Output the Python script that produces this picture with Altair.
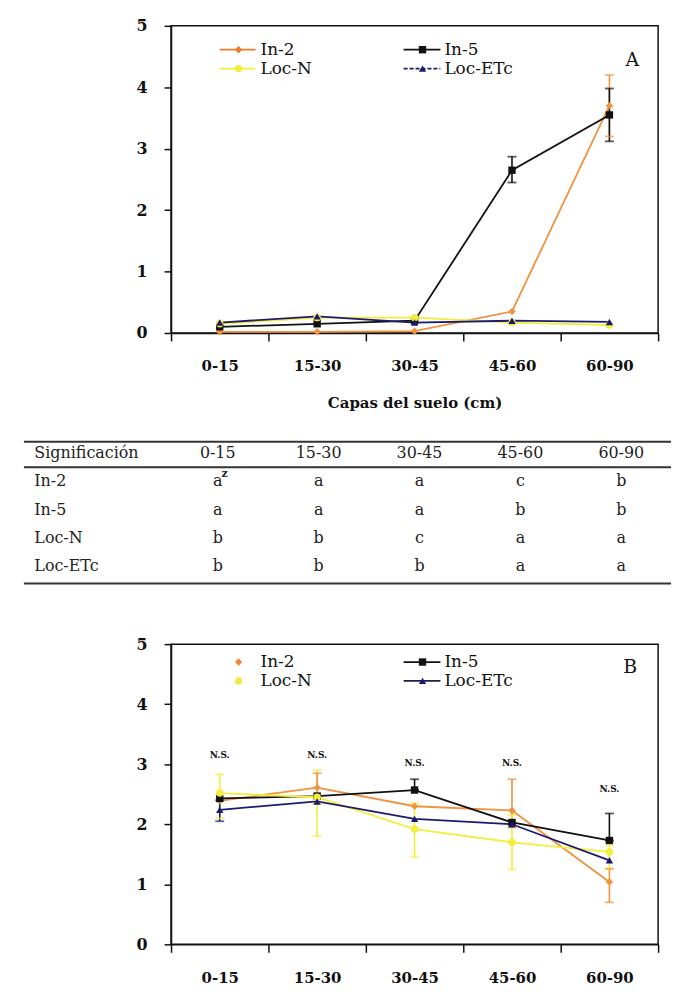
import altair as alt
import pandas as pd

SERIF = "DejaVu Serif"

capas = ["0-15", "15-30", "30-45", "45-60", "60-90"]
series = ["In-2", "In-5", "Loc-N", "Loc-ETc"]

# Panel A values
a_in2 = [0.02, 0.02, 0.03, 0.35, 3.70]
a_in5 = [0.10, 0.15, 0.20, 2.65, 3.55]
a_locn = [0.15, 0.25, 0.25, 0.17, 0.13]
a_locetc = [0.17, 0.27, 0.17, 0.20, 0.18]

a_err_serie = ["In-2", "In-5", "In-5"]
a_err_capa = ["60-90", "45-60", "60-90"]
a_err_lo = [3.20, 2.45, 3.12]
a_err_hi = [4.20, 2.87, 3.98]

# Panel B values
b_in2 = [2.39, 2.61, 2.30, 2.23, 1.04]
b_in5 = [2.43, 2.47, 2.57, 2.03, 1.73]
b_locn = [2.52, 2.45, 1.92, 1.70, 1.54]
b_locetc = [2.24, 2.38, 2.09, 2.00, 1.40]

b_err_serie = ["Loc-N", "Loc-ETc", "Loc-N", "In-2", "In-5", "Loc-N",
               "In-2", "Loc-N", "In-5", "In-2", "Loc-N"]
b_err_capa = ["0-15", "0-15", "15-30", "15-30", "30-45", "30-45",
              "45-60", "45-60", "60-90", "60-90", "60-90"]
b_err_lo = [2.10, 2.05, 1.80, 2.35, 2.57, 1.45, 1.95, 1.25, 1.73, 0.70, 1.25]
b_err_hi = [2.83, 2.40, 2.90, 2.85, 2.75, 2.35, 2.75, 2.15, 2.18, 1.26, 1.65]

ns_text = "N.S."
ns_y = [3.16, 3.16, 3.02, 3.02, 2.58]

# Significance table
sig_header = "Significación"
sig_in2 = ["a", "a", "a", "c", "b"]
sig_in5 = ["a", "a", "a", "b", "b"]
sig_locn = ["b", "b", "c", "a", "a"]
sig_locetc = ["b", "b", "b", "a", "a"]
sig_sup = "z"

shapes = ["diamond", "square", "circle", "triangle-up"]
a_line_colors = ["#F0923E", "#111111", "#F2EE3A", "#1B1B6E"]
a_point_colors = ["#F07A2A", "#111111", "#F2EE3A", "#1B1B6E"]
b_line_colors = ["#F6C08E", "#111111", "#F4EE9A", "#1E1E50"]
b_point_colors = ["#F0863A", "#111111", "#EFEA4A", "#1B1B6E"]


def panel(vals, err_s, err_c, err_lo, err_hi, line_colors, point_colors,
          height, x_title, tag, leg_rows, leg_lines, leg_dash, tag_pos, ns=None):
    df = pd.DataFrame({
        "capa": capas * len(series),
        "serie": [s for s in series for _ in capas],
        "valor": [v for vs in vals for v in vs],
    })
    err = pd.DataFrame({"capa": err_c, "serie": err_s, "lo": err_lo, "hi": err_hi})

    axis_kw = dict(tickBand="extent", labelAngle=0, labelFont=SERIF,
                   labelFontWeight="bold", labelFontSize=15, labelColor="#111",
                   tickSize=8, tickColor="#111", tickWidth=1.5,
                   domainColor="#111", domainWidth=1.5, labelPadding=18)
    if x_title:
        axis_kw.update(title=x_title, titleFont=SERIF, titleFontSize=15,
                       titleFontWeight="bold", titlePadding=22, titleColor="#111")
    else:
        axis_kw.update(title=None)
    xscale = alt.Scale(type="band", domain=capas, paddingInner=0, paddingOuter=0)
    x = alt.X("capa:N", sort=capas, scale=xscale, axis=alt.Axis(**axis_kw))

    yscale = alt.Scale(domain=[0, 5], nice=False)
    yaxis = alt.Axis(values=[0, 1, 2, 3, 4, 5], grid=False, title=None,
                     labelFont=SERIF, labelFontWeight="bold", labelFontSize=16,
                     labelColor="#111", tickSize=7, tickColor="#111", tickWidth=1.5,
                     domainColor="#111", domainWidth=1.5, labelPadding=17)

    lcol = alt.Color("serie:N", scale=alt.Scale(domain=series, range=line_colors), legend=None)
    pcol = alt.Color("serie:N", scale=alt.Scale(domain=series, range=point_colors), legend=None)

    lines = alt.Chart(df).mark_line(strokeWidth=1.8).encode(
        x=x, y=alt.Y("valor:Q", scale=yscale, axis=yaxis), color=lcol,
        detail="serie:N")
    ecol = alt.Color("serie:N", scale=alt.Scale(domain=series, range=point_colors), legend=None)
    bars = alt.Chart(err).mark_rule(strokeWidth=1.6).encode(
        x=x, y=alt.Y("lo:Q", scale=yscale, axis=yaxis), y2="hi:Q", color=ecol)
    cap_lo = alt.Chart(err).mark_tick(size=9, thickness=1.8).encode(
        x=x, y=alt.Y("lo:Q", scale=yscale, axis=yaxis), color=ecol)
    cap_hi = alt.Chart(err).mark_tick(size=9, thickness=1.8).encode(
        x=x, y=alt.Y("hi:Q", scale=yscale, axis=yaxis), color=ecol)
    points = alt.Chart(df).mark_point(filled=True, size=55, opacity=1).encode(
        x=x, y=alt.Y("valor:Q", scale=yscale, axis=yaxis), color=pcol,
        shape=alt.Shape("serie:N", scale=alt.Scale(domain=series, range=shapes), legend=None))

    layers = [lines, bars, cap_lo, cap_hi, points]

    if ns is not None:
        nsdf = pd.DataFrame({"capa": capas, "ny": ns, "t": [ns_text] * len(capas)})
        layers.append(alt.Chart(nsdf).mark_text(font=SERIF, fontWeight="bold",
                                                fontSize=9, color="#111").encode(
            x=x, y=alt.Y("ny:Q", scale=yscale, axis=yaxis), text="t:N"))

    # legend drawn inside the plot (Excel style)
    col_line = [(49, 85, 68, 90), (234, 271, 253, 275)]
    for i, s in enumerate(series):
        c, r = i % 2, i // 2
        x0, x1, xm, xt = col_line[c]
        yy = leg_rows[r]
        one = pd.DataFrame({"serie": [s]})
        if leg_lines[i]:
            rule_kw = dict(color=line_colors[i] if i != 0 else point_colors[i], strokeWidth=1.8)
            if leg_dash[i]:
                rule_kw["strokeDash"] = [4, 2]
            layers.append(alt.Chart(one).mark_rule(**rule_kw).encode(
                x=alt.value(x0), x2=alt.value(x1), y=alt.value(yy)))
        layers.append(alt.Chart(one).mark_point(filled=True, size=55, opacity=1,
                                                shape=shapes[i], color=point_colors[i]).encode(
            x=alt.value(xm), y=alt.value(yy)))
        layers.append(alt.Chart(one).mark_text(align="left", baseline="middle", font=SERIF,
                                               fontSize=17, color="#111").encode(
            x=alt.value(xt), y=alt.value(yy), text="serie:N"))
    tagdf = pd.DataFrame({"t": [tag]})
    layers.append(alt.Chart(tagdf).mark_text(font=SERIF, fontSize=19, color="#111").encode(
        x=alt.value(tag_pos[0]), y=alt.value(tag_pos[1]), text="t:N"))

    return alt.layer(*layers).properties(
        width=490, height=height,
        view=alt.ViewBackground(stroke="#111", strokeWidth=1.5))


def table():
    labels = [sig_header] + series
    rows = [capas, sig_in2, sig_in5, sig_locn, sig_locetc]
    cells = pd.DataFrame([{"fila": r, "col": c + 1, "txt": t}
                          for r, vs in enumerate(rows) for c, t in enumerate(vs)])
    labs = pd.DataFrame({"fila": list(range(len(labels))), "col": [0] * len(labels), "txt": labels})
    sup = pd.DataFrame({"fila": [1], "col": [1], "txt": [sig_sup]})
    rules = pd.DataFrame({"ry": [-0.4, 0.5, 4.6]})

    xs = alt.Scale(domain=[0.537, 5.365], nice=False, zero=False)
    ys = alt.Scale(domain=[-2.102, 4.6], nice=False, zero=False, reverse=True)
    X = alt.X("col:Q", scale=xs, axis=None)
    Y = alt.Y("fila:Q", scale=ys, axis=None)

    t_cells = alt.Chart(cells).mark_text(font=SERIF, fontSize=16, color="#222").encode(
        x=X, y=Y, text="txt:N")
    t_labs = alt.Chart(labs).mark_text(font=SERIF, fontSize=16, color="#222",
                                       align="left", dx=-83).encode(x=X, y=Y, text="txt:N")
    t_sup = alt.Chart(sup).mark_text(font=SERIF, fontSize=11, fontWeight="bold",
                                     color="#222", dx=7, dy=-8).encode(x=X, y=Y, text="txt:N")
    t_rules = alt.Chart(rules).mark_rule(strokeWidth=2, color="#333").encode(
        y=alt.Y("ry:Q", scale=ys, axis=None), x=alt.value(-148), x2=alt.value(503))
    return alt.layer(t_rules, t_cells, t_labs, t_sup).properties(
        width=490, height=191, view=alt.ViewBackground(stroke="transparent"))


pA = panel([a_in2, a_in5, a_locn, a_locetc], a_err_serie, a_err_capa, a_err_lo, a_err_hi,
           a_line_colors, a_point_colors, 309, "Capas del suelo (cm)", "A",
           [24, 43], [True, True, True, True], [False, False, False, True], (464, 34))
pB = panel([b_in2, b_in5, b_locn, b_locetc], b_err_serie, b_err_capa, b_err_lo, b_err_hi,
           b_line_colors, b_point_colors, 302, None, "B",
           [18, 37], [False, True, False, True], [False, False, False, False], (462, 23),
           ns=ns_y)

chart = alt.vconcat(pA, table(), pB, spacing=61, bounds="flush").properties(
    padding={"left": 14, "top": 6, "right": 4, "bottom": 4}, background="white"
).configure(font=SERIF)

chart.save("out.html", embed_options={"renderer": "svg", "actions": False})
